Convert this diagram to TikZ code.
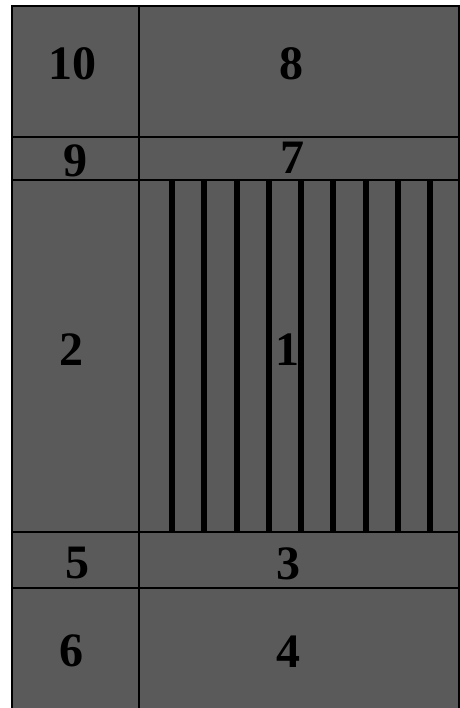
\documentclass[tikz,border=0pt]{standalone}
\usepackage{fontspec}
\setmainfont{Liberation Serif}
\usepackage{xcolor}
\usepackage{tikz}
\usetikzlibrary{positioning}
\definecolor{plotgray}{RGB}{90, 90, 90}

\begin{document}
\begin{tikzpicture}[
    x=0.5pt, y=-0.5pt,
    divider/.style={draw=black, line width=1.3pt},
    slat/.style={draw=black, line width=3pt},
    zonelabel/.style={font=\fontsize{24}{24}\selectfont\bfseries, inner sep=0pt}
]
    \useasboundingbox (0,0) rectangle (460,708);
    \fill[plotgray] (12,6) rectangle (460,708);

    % outline and dividers
    \draw[divider] (12,708) -- (12,6) -- (459,6) -- (459,708);
    \draw[divider] (139,6) -- (139,708);
    \draw[divider] (12,137) -- (459,137);
    \draw[divider] (12,180) -- (459,180);
    \draw[divider] (12,532) -- (459,532);
    \draw[divider] (12,588) -- (459,588);

    % slats in zone 1
    \foreach \i in {0,...,8}
        \draw[slat] ({172+32.25*\i},180) -- ({172+32.25*\i},532);

    % zone numbers
    \node[zonelabel] (z10) at (72,64) {10};
    \node[zonelabel] (z8) at (291,64) {8};
    \node[zonelabel] (z9) at (75,161) {9};
    \node[zonelabel] (z7) at (292,158) {7};
    \node[zonelabel] (z2) at (72,350) {2};
    \node[zonelabel] (z1) at (287,350) {1};
    \node[zonelabel] (z5) at (77,563) {5};
    \node[zonelabel] (z3) at (288,564) {3};
    \node[zonelabel] (z6) at (71,651) {6};
    \node[zonelabel] (z4) at (288,652) {4};
\end{tikzpicture}
\end{document}
